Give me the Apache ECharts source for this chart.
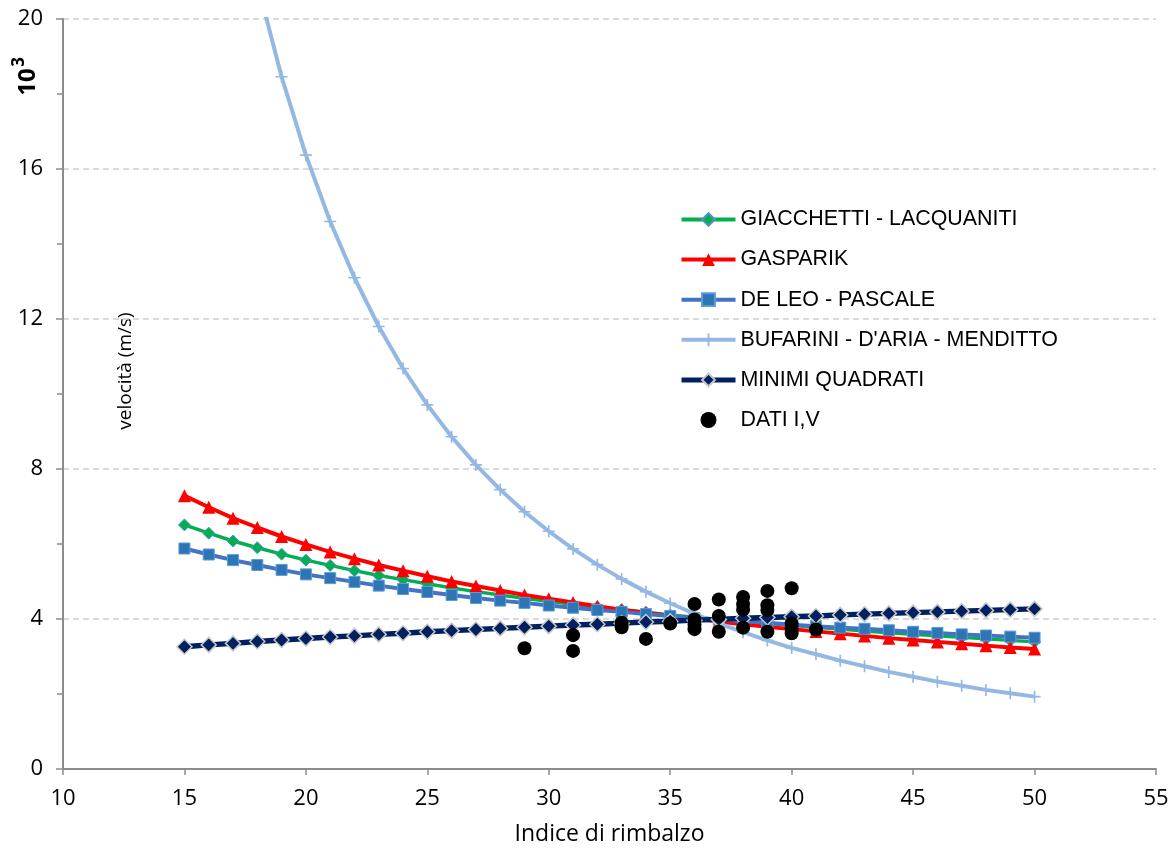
<!DOCTYPE html>
<html>
<head>
<meta charset="utf-8">
<script src="https://cdn.jsdelivr.net/npm/echarts@6.0.0/dist/echarts.min.js"></script>
<style>
html,body{margin:0;padding:0;background:#fff}
#grafico{width:1175px;height:851px}
</style>
</head>
<body>
<div id="grafico"></div>
<script>
// valori (velocità in migliaia di m/s)
var indice = [15,16,17,18,19,20,21,22,23,24,25,26,27,28,29,30,31,32,33,34,35,36,37,38,39,40,41,42,43,44,45,46,47,48,49,50]
var giacchetti = [6.51,6.29,6.08,5.90,5.73,5.57,5.43,5.29,5.16,5.05,4.94,4.83,4.73,4.64,4.55,4.47,4.39,4.32,4.25,4.18,4.11,4.05,3.99,3.93,3.88,3.83,3.78,3.73,3.68,3.63,3.59,3.55,3.51,3.47,3.43,3.39]
var gasparik = [7.29,6.98,6.69,6.44,6.20,5.99,5.79,5.61,5.44,5.29,5.14,5.00,4.88,4.76,4.64,4.54,4.44,4.34,4.25,4.17,4.08,4.01,3.93,3.86,3.79,3.73,3.67,3.61,3.55,3.49,3.44,3.39,3.34,3.29,3.24,3.20]
var deLeo = [5.88,5.72,5.57,5.44,5.31,5.19,5.09,4.99,4.89,4.80,4.72,4.64,4.56,4.49,4.43,4.36,4.30,4.24,4.19,4.13,4.08,4.03,3.99,3.94,3.90,3.85,3.81,3.77,3.74,3.70,3.66,3.63,3.59,3.56,3.53,3.50]
var bufarini = [32.1,27.6,23.9,20.95,18.46,16.37,14.6,13.1,11.8,10.68,9.71,8.86,8.11,7.45,6.86,6.34,5.87,5.45,5.07,4.73,4.42,4.14,3.88,3.65,3.43,3.23,3.06,2.89,2.74,2.59,2.46,2.33,2.22,2.11,2.02,1.93]
var minimiQuadrati = [3.26,3.31,3.35,3.40,3.44,3.48,3.52,3.55,3.59,3.62,3.66,3.69,3.72,3.75,3.78,3.81,3.84,3.86,3.89,3.92,3.94,3.97,3.99,4.02,4.04,4.06,4.08,4.11,4.13,4.15,4.17,4.19,4.21,4.23,4.25,4.27]
var datiI = [29,31,31,33,33,34,35,36,36,36,36,37,37,37,38,38,38,38,39,39,39,39,40,40,40,40,41]
var datiV = [3.22,3.57,3.15,3.90,3.78,3.47,3.88,4.40,3.99,3.85,3.73,4.52,4.08,3.66,4.59,4.40,4.25,3.77,4.75,4.37,4.24,3.66,4.82,3.88,3.75,3.62,3.72]
var xTicks = [10,15,20,25,30,35,40,45,50,55]
var yTicks = [0,4,8,12,16,20]

function coppie(xs, ys){
    return xs.map(function(x, i){ return [x, ys[i]] })
}

function creaGrafico(){
    var fontAssi = '"Open Sans", sans-serif'
    var plus = 'path://M0,4.3H10V5.7H0Z M4.3,0H5.7V10H4.3Z'
    var option = {
        backgroundColor: '#fff',
        animation: false,
        grid: {left: 63, right: 19, top: 19, bottom: 82},
        legend: {
            orient: 'vertical',
            left: 674,
            top: 204,
            itemWidth: 54,
            itemHeight: 16,
            itemGap: 19.1,
            lineStyle: {width: 4},
            textStyle: {fontFamily: '"Liberation Sans", Arial, sans-serif', fontSize: 21.4, color: '#000'},
            data: [
                'GIACCHETTI - LACQUANITI',
                'GASPARIK',
                'DE LEO - PASCALE',
                "BUFARINI - D'ARIA - MENDITTO",
                {name: 'MINIMI QUADRATI', lineStyle: {width: 5}},
                'DATI I,V'
            ]
        },
        xAxis: {
            type: 'value',
            min: xTicks[0],
            max: xTicks[xTicks.length - 1],
            interval: xTicks[1] - xTicks[0],
            name: 'Indice di rimbalzo',
            nameLocation: 'middle',
            nameGap: 54,
            nameTextStyle: {fontFamily: fontAssi, fontSize: 23, color: '#000'},
            axisLine: {onZero: false, lineStyle: {color: '#8c8c8c', width: 2}},
            axisTick: {show: true, inside: false, length: 6, lineStyle: {color: '#8c8c8c', width: 1.5}},
            axisLabel: {fontFamily: fontAssi, fontSize: 22, color: '#000', margin: 19},
            splitLine: {show: false}
        },
        yAxis: {
            type: 'value',
            min: yTicks[0],
            max: yTicks[yTicks.length - 1],
            interval: yTicks[1] - yTicks[0],
            axisLine: {show: true, lineStyle: {color: '#8c8c8c', width: 2}},
            axisTick: {show: true, inside: false, length: 7, lineStyle: {color: '#8c8c8c', width: 1.5}},
            minorTick: {show: true, splitNumber: 2, length: 6, lineStyle: {color: '#8c8c8c', width: 1.5}},
            axisLabel: {fontFamily: fontAssi, fontSize: 22, color: '#000', margin: 20},
            splitLine: {show: true, lineStyle: {color: '#d0d0d0', width: 1.5, type: [6, 4]}}
        },
        graphic: [
            {type: 'text', x: 28, y: 82, rotation: Math.PI / 2,
             style: {text: '10', font: 'bold 24px "Open Sans", sans-serif', fill: '#000', align: 'center', verticalAlign: 'middle'}},
            {type: 'text', x: 19, y: 62, rotation: Math.PI / 2,
             style: {text: '3', font: 'bold 17px "Open Sans", sans-serif', fill: '#000', align: 'center', verticalAlign: 'middle'}},
            {type: 'text', x: 126, y: 371, rotation: Math.PI / 2,
             style: {text: 'velocità (m/s)', font: '19px "Open Sans", sans-serif', fill: '#000', align: 'center', verticalAlign: 'middle'}}
        ],
        series: [
            {
                name: 'GIACCHETTI - LACQUANITI',
                type: 'line',
                data: coppie(indice, giacchetti),
                symbol: 'diamond',
                symbolSize: 12,
                lineStyle: {color: '#00b050', width: 3.5},
                itemStyle: {color: '#00b050', borderColor: '#5b8fc9', borderWidth: 1},
                z: 2
            },
            {
                name: 'GASPARIK',
                type: 'line',
                data: coppie(indice, gasparik),
                symbol: 'triangle',
                symbolSize: 13,
                lineStyle: {color: '#ff0000', width: 4},
                itemStyle: {color: '#ff0000'},
                z: 3
            },
            {
                name: 'DE LEO - PASCALE',
                type: 'line',
                data: coppie(indice, deLeo),
                symbol: 'rect',
                symbolSize: 11,
                lineStyle: {color: '#4472c4', width: 4},
                itemStyle: {color: '#2e75b6', borderColor: '#5b9bd5', borderWidth: 1},
                z: 4
            },
            {
                name: "BUFARINI - D'ARIA - MENDITTO",
                type: 'line',
                data: coppie(indice, bufarini),
                symbol: plus,
                symbolSize: 12,
                lineStyle: {color: '#95b8e3', width: 4},
                itemStyle: {color: '#95b8e3'},
                z: 5
            },
            {
                name: 'MINIMI QUADRATI',
                type: 'line',
                data: coppie(indice, minimiQuadrati),
                symbol: 'diamond',
                symbolSize: 15,
                lineStyle: {color: '#002060', width: 5.5},
                itemStyle: {color: '#002060', borderColor: '#c8c8c8', borderWidth: 1.5},
                z: 6
            },
            {
                name: 'DATI I,V',
                type: 'scatter',
                data: coppie(datiI, datiV),
                symbol: 'circle',
                symbolSize: 14,
                itemStyle: {color: '#000', opacity: 1},
                z: 7
            }
        ]
    }
    var myChart = echarts.init(document.getElementById('grafico'))
    myChart.setOption(option)
}
creaGrafico()
</script>
</body>
</html>
